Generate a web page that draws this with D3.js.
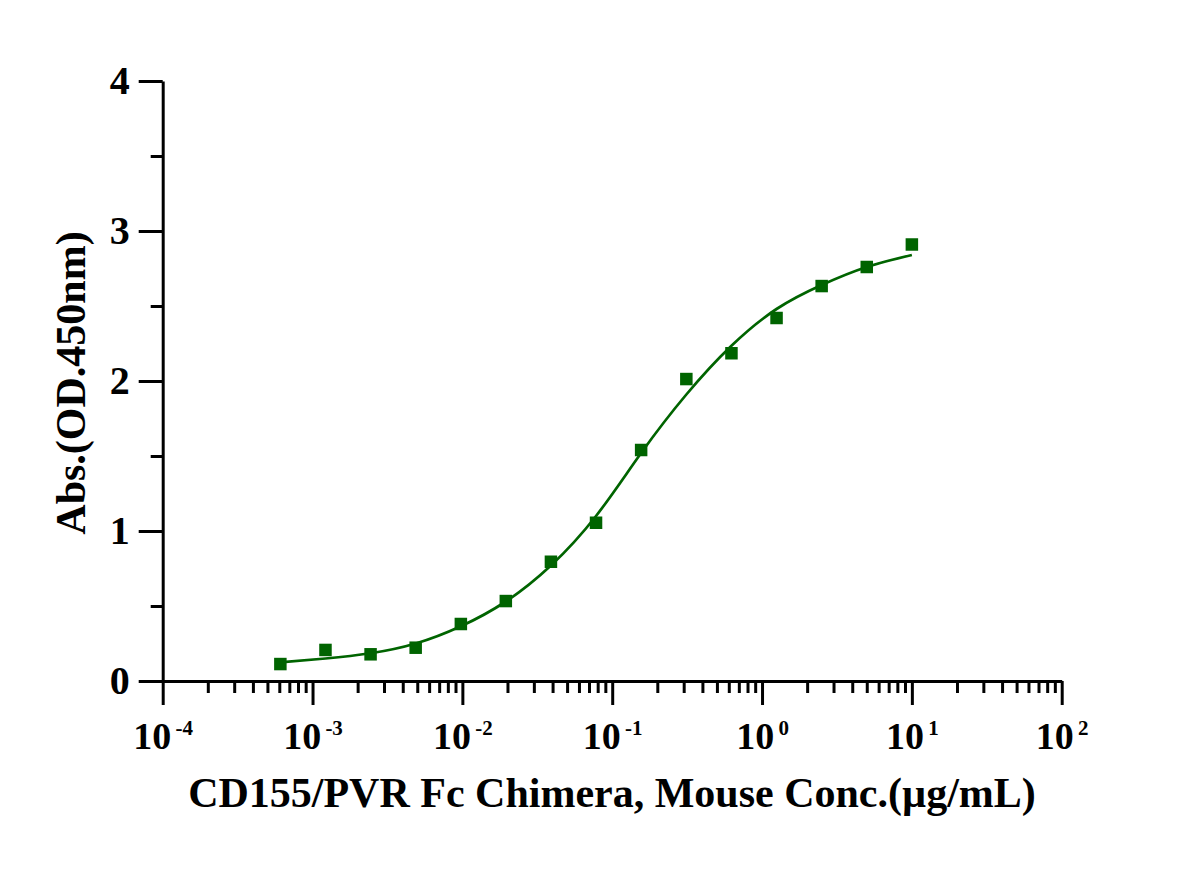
<!DOCTYPE html>
<html>
<head>
<meta charset="utf-8">
<script src="https://cdn.jsdelivr.net/npm/d3@7"></script>
<style>
  html, body { margin: 0; padding: 0; background: #fff; }
  svg { display: block; }
  text { font-family: "Liberation Serif", "Times New Roman", serif; font-weight: bold; fill: #000; }
</style>
</head>
<body>
<svg id="chart" width="1187" height="873"></svg>
<script>
// ---- data ----
const concentrations = [0.00061, 0.00122, 0.00244, 0.00488, 0.00977, 0.0195, 0.039, 0.078, 0.156, 0.3125, 0.625, 1.25, 2.5, 5, 10];
const absorbance     = [0.113, 0.207, 0.178, 0.222, 0.38, 0.533, 0.795, 1.055, 1.54, 2.013, 2.185, 2.42, 2.633, 2.76, 2.91];
// fitted curve
const curveConc = [0.00061, 0.00122, 0.00244, 0.00488, 0.00977, 0.0195, 0.039, 0.078, 0.156, 0.3125, 0.625, 1.25, 2.5, 5, 10];
const curveAbs  = [0.125, 0.15, 0.185, 0.25, 0.365, 0.53, 0.77, 1.1, 1.52, 1.91, 2.235, 2.48, 2.64, 2.76, 2.84];
const xTickExponents = [-4, -3, -2, -1, 0, 1, 2];
const yTickValues = [0, 1, 2, 3, 4];
const yMinorValues = [0.5, 1.5, 2.5, 3.5];
const xTitle = "CD155/PVR Fc Chimera, Mouse Conc.(\u00b5g/mL)";
const yTitle = "Abs.(OD.450nm)";
const color = "#006400";

// ---- layout ----
const svg = d3.select("#chart");
const x = d3.scaleLog().domain([1e-4, 1e2]).range([162.7, 1061.7]);
const y = d3.scaleLinear().domain([0, 4]).range([681, 81]);

const xMajors = xTickExponents.map(e => Math.pow(10, e));
const xMinors = [];
for (let e = -4; e < 2; e++) for (let m = 2; m <= 9; m++) xMinors.push(m * Math.pow(10, e));

// x axis
const gx = svg.append("g").attr("transform", `translate(0,${y(0)})`);
gx.append("g").call(d3.axisBottom(x).tickValues(xMinors).tickSize(12).tickFormat("").tickSizeOuter(0))
  .call(g => g.select(".domain").remove());
const gxMaj = gx.append("g").call(d3.axisBottom(x).tickValues(xMajors).tickSize(24).tickFormat("").tickSizeOuter(0));
gx.selectAll("line").attr("stroke", "#000").attr("stroke-width", 3);
gx.selectAll(".domain").attr("stroke", "#000").attr("stroke-width", 3);
gxMaj.selectAll(".tick").each(function(d, i) {
  const t = d3.select(this).append("text")
    .attr("y", 67.5).attr("text-anchor", "middle")
    .style("font-size", "38px");
  t.append("tspan").text("10");
  t.append("tspan").text("\u2009" + xTickExponents[i]).attr("dy", -13.5).style("font-size", "21px");
});

// y axis
const gy = svg.append("g").attr("transform", `translate(${x(1e-4)},0)`);
gy.append("g").call(d3.axisLeft(y).tickValues(yMinorValues).tickSize(12).tickFormat("").tickSizeOuter(0))
  .call(g => g.select(".domain").remove());
const gyMaj = gy.append("g").call(d3.axisLeft(y).tickValues(yTickValues).tickSize(24).tickFormat(d3.format("d")).tickSizeOuter(0).tickPadding(9));
gy.selectAll("line").attr("stroke", "#000").attr("stroke-width", 3);
gy.selectAll(".domain").attr("stroke", "#000").attr("stroke-width", 3);
gyMaj.selectAll("text").style("font-size", "40px").attr("fill", "#000")
  .style("font-family", "'Liberation Serif', serif").style("font-weight", "bold");

// curve
const line = d3.line().x(d => x(d[0])).y(d => y(d[1])).curve(d3.curveNatural);
svg.append("path")
  .datum(curveConc.map((c, i) => [c, curveAbs[i]]))
  .attr("d", line).attr("fill", "none").attr("stroke", color).attr("stroke-width", 2.7);

// points
const sq = 12.5;
svg.append("g").selectAll("rect")
  .data(concentrations.map((c, i) => [c, absorbance[i]]))
  .join("rect")
  .attr("x", d => x(d[0]) - sq / 2).attr("y", d => y(d[1]) - sq / 2)
  .attr("width", sq).attr("height", sq).attr("fill", color);

// titles
svg.append("text").attr("x", 612).attr("y", 807).attr("text-anchor", "middle")
  .style("font-size", "42px").text(xTitle);
svg.append("text").attr("transform", `translate(85,383) rotate(-90)`).attr("text-anchor", "middle")
  .style("font-size", "42px").text(yTitle);
</script>
</body>
</html>
